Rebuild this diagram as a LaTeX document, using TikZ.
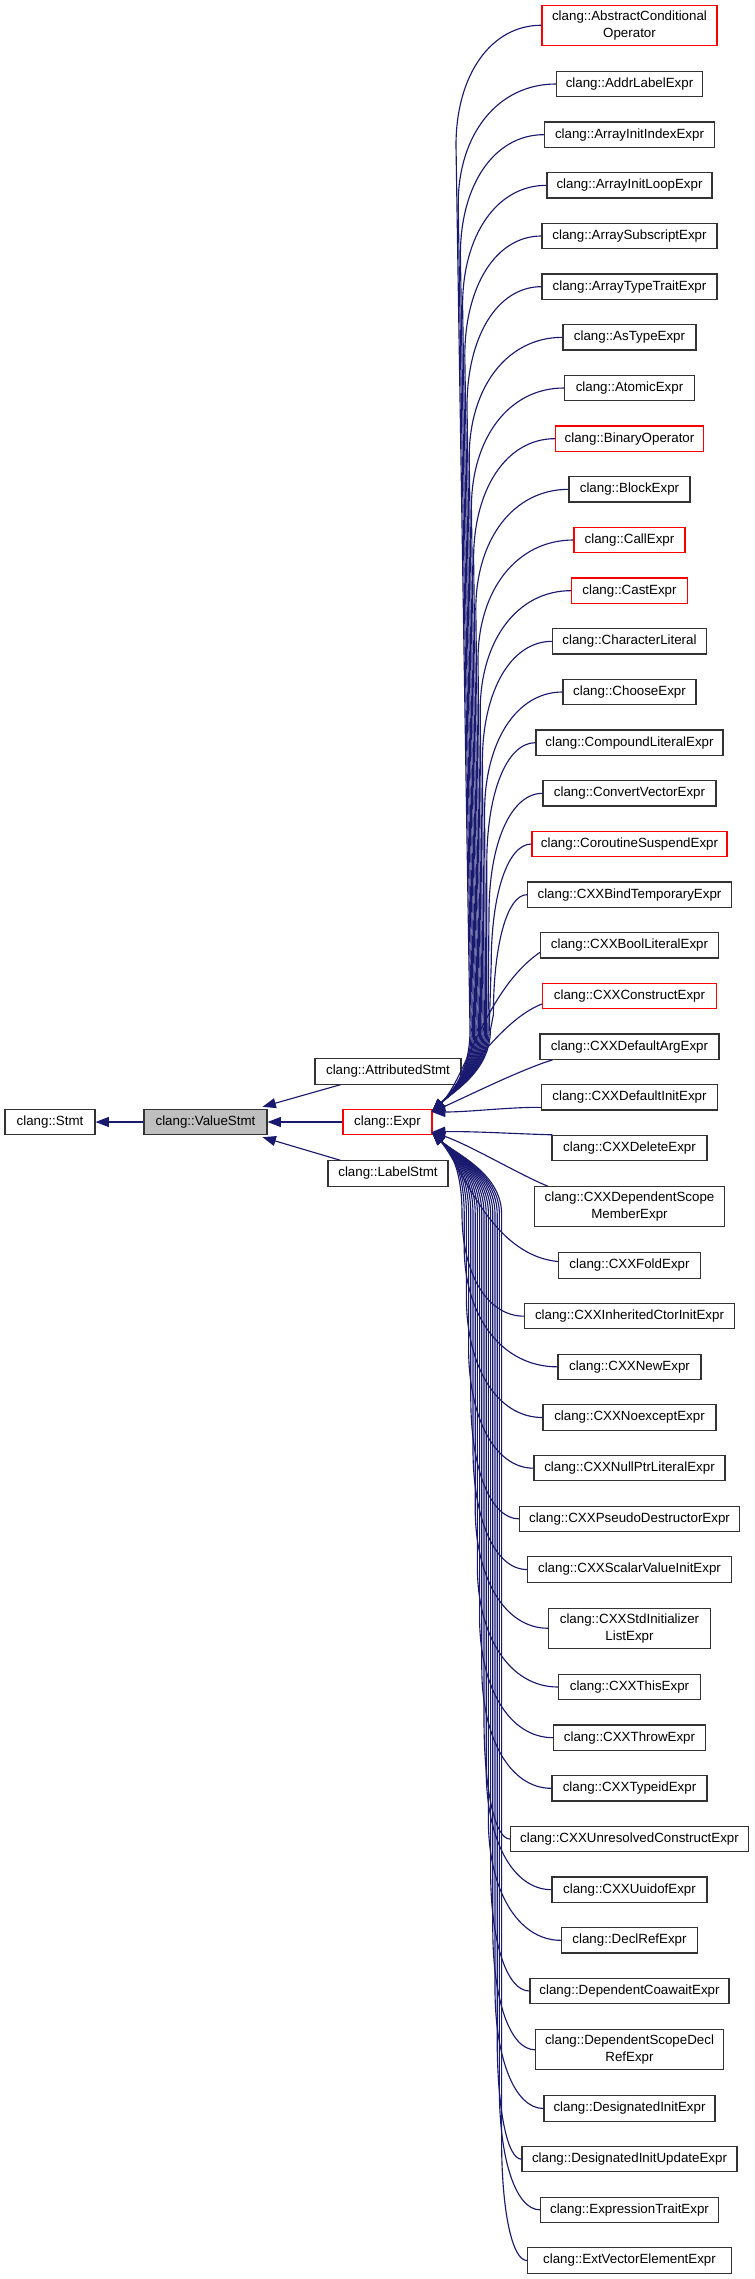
\documentclass[tikz,border=0pt]{standalone}
\usepackage{fontspec}
\setmainfont{Liberation Sans}
\usetikzlibrary{arrows.meta,calc}
\definecolor{edgeblue}{HTML}{191970}
\definecolor{boxred}{HTML}{FF0000}
\definecolor{boxgray}{HTML}{BFBFBF}
\tikzset{
 cls/.style={draw=black!80, line width=0.8pt, fill=white, inner xsep=0pt, inner ysep=0pt, minimum height=19pt, font=\fontsize{10}{12.5}\selectfont, align=center},
 redcls/.style={cls, draw=boxred},
 dbl/.style={minimum height=30pt},
 wd/.style={minimum width=#1*0.75pt},
 inh/.style={draw=edgeblue, line width=0.85pt, arrows={Triangle[length=10pt,width=7.5pt]-}},
}
\newcommand\clsnode[5]{\node[#5, wd=#3] (#1) at (629.5,#2) {#4};}
% name, index, y centre, width
\newcommand\upedge[4]{%
 \pgfmathsetmacro\xb{470+(#2-1)*1.2}%
 \pgfmathsetmacro\xt{456+(#2-1)*2.2}%
 \pgfmathsetmacro\lv{min(120,1030-#3)}%
 \pgfmathsetmacro\cx{\xt+0.4*(629.5-#4/2-\xt)}%
 \draw[inh] (432,1112) .. controls (452,1092) and (\xb,1072) .. (\xb,1030) -- (\xt,#3+\lv) .. controls (\xt,#3+0.42*\lv) and (\cx,#3) .. (#1.west);}
\newcommand\downedge[4]{%
 \pgfmathsetmacro\xt{462+(#2-1)*2.2}%
 \pgfmathsetmacro\lv{min(120,#3-1214)}%
 \pgfmathsetmacro\cx{\xt+0.4*(629.5-#4/2-\xt)}%
 \draw[inh] (432,1132) .. controls (452,1152) and (\xt,1172) .. (\xt,1214) -- (\xt,#3-\lv) .. controls (\xt,#3-0.42*\lv) and (\cx,#3) .. (#1.west);}
\begin{document}
\begin{tikzpicture}[x=0.75pt,y=-0.75pt]
\useasboundingbox (0,0) rectangle (755,2279);
% left part
\node[cls, wd=90] (stmt) at (50,1122) {clang::Stmt};
\node[cls, wd=123, fill=boxgray] (vs) at (205.5,1122) {clang::ValueStmt};
\node[redcls, wd=89] (expr) at (387.5,1122) {clang::Expr};
\node[cls, wd=146] (as) at (388,1071.5) {clang::AttributedStmt};
\node[cls, wd=120] (ls) at (388,1173.5) {clang::LabelStmt};
% right column
\clsnode{n1}{25.25}{175}{clang::AbstractConditional\\Operator}{redcls,dbl}
\clsnode{n2}{84}{146}{clang::AddrLabelExpr}{cls}
\clsnode{n3}{134.67}{170}{clang::ArrayInitIndexExpr}{cls}
\clsnode{n4}{185.33}{165}{clang::ArrayInitLoopExpr}{cls}
\clsnode{n5}{236}{175}{clang::ArraySubscriptExpr}{cls}
\clsnode{n6}{286.67}{175}{clang::ArrayTypeTraitExpr}{cls}
\clsnode{n7}{337.33}{133}{clang::AsTypeExpr}{cls}
\clsnode{n8}{388}{130}{clang::AtomicExpr}{cls}
\clsnode{n9}{438.67}{148}{clang::BinaryOperator}{redcls}
\clsnode{n10}{489.33}{121}{clang::BlockExpr}{cls}
\clsnode{n11}{540}{111}{clang::CallExpr}{redcls}
\clsnode{n12}{590.67}{116}{clang::CastExpr}{redcls}
\clsnode{n13}{641.33}{154}{clang::CharacterLiteral}{cls}
\clsnode{n14}{692}{133}{clang::ChooseExpr}{cls}
\clsnode{n15}{742.67}{187}{clang::CompoundLiteralExpr}{cls}
\clsnode{n16}{793.33}{173}{clang::ConvertVectorExpr}{cls}
\clsnode{n17}{844}{195}{clang::CoroutineSuspendExpr}{redcls}
\clsnode{n18}{894.67}{204}{clang::CXXBindTemporaryExpr}{cls}
\clsnode{n19}{945.33}{178}{clang::CXXBoolLiteralExpr}{cls}
\clsnode{n20}{996}{174}{clang::CXXConstructExpr}{redcls}
\clsnode{n21}{1046.67}{179}{clang::CXXDefaultArgExpr}{cls}
\clsnode{n22}{1097.33}{176}{clang::CXXDefaultInitExpr}{cls}
\clsnode{n23}{1148}{155}{clang::CXXDeleteExpr}{cls}
\clsnode{n24}{1206.75}{190}{clang::CXXDependentScope\\MemberExpr}{cls,dbl}
\clsnode{n25}{1265.5}{142}{clang::CXXFoldExpr}{cls}
\clsnode{n26}{1316.17}{210}{clang::CXXInheritedCtorInitExpr}{cls}
\clsnode{n27}{1366.83}{143}{clang::CXXNewExpr}{cls}
\clsnode{n28}{1417.5}{173}{clang::CXXNoexceptExpr}{cls}
\clsnode{n29}{1468.17}{191}{clang::CXXNullPtrLiteralExpr}{cls}
\clsnode{n30}{1518.83}{220}{clang::CXXPseudoDestructorExpr}{cls}
\clsnode{n31}{1569.5}{204}{clang::CXXScalarValueInitExpr}{cls}
\clsnode{n32}{1628.25}{162}{clang::CXXStdInitializer\\ListExpr}{cls,dbl}
\clsnode{n33}{1687}{142}{clang::CXXThisExpr}{cls}
\clsnode{n34}{1737.67}{152}{clang::CXXThrowExpr}{cls}
\clsnode{n35}{1788.33}{155}{clang::CXXTypeidExpr}{cls}
\clsnode{n36}{1839}{238}{clang::CXXUnresolvedConstructExpr}{cls}
\clsnode{n37}{1889.67}{155}{clang::CXXUuidofExpr}{cls}
\clsnode{n38}{1940.33}{136}{clang::DeclRefExpr}{cls}
\clsnode{n39}{1991}{199}{clang::DependentCoawaitExpr}{cls}
\clsnode{n40}{2049.75}{188}{clang::DependentScopeDecl\\RefExpr}{cls,dbl}
\clsnode{n41}{2108.5}{171}{clang::DesignatedInitExpr}{cls}
\clsnode{n42}{2159.17}{215}{clang::DesignatedInitUpdateExpr}{cls}
\clsnode{n43}{2209.83}{178}{clang::ExpressionTraitExpr}{cls}
\clsnode{n44}{2260.5}{204}{clang::ExtVectorElementExpr}{cls}
% left edges
\draw[inh] (stmt) -- (vs);
\draw[inh] (vs) -- (expr);
\draw[inh] ($(vs.north east)+(-5,-2)$) -- ($(as.south west)+(26,0)$);
\draw[inh] ($(vs.south east)+(-5,2)$) -- ($(ls.north west)+(13,0)$);
% upper edges
\upedge{n1}{1}{25.25}{175}
\upedge{n2}{2}{84}{146}
\upedge{n3}{3}{134.67}{170}
\upedge{n4}{4}{185.33}{165}
\upedge{n5}{5}{236}{175}
\upedge{n6}{6}{286.67}{175}
\upedge{n7}{7}{337.33}{133}
\upedge{n8}{8}{388}{130}
\upedge{n9}{9}{438.67}{148}
\upedge{n10}{10}{489.33}{121}
\upedge{n11}{11}{540}{111}
\upedge{n12}{12}{590.67}{116}
\upedge{n13}{13}{641.33}{154}
\upedge{n14}{14}{692}{133}
\upedge{n15}{15}{742.67}{187}
\upedge{n16}{16}{793.33}{173}
\upedge{n17}{17}{844}{195}
\upedge{n18}{18}{894.67}{204}
\draw[inh] (432,1112) .. controls (465,1080) and (485,990) .. ($(n19.west)+(0,7)$);
\draw[inh] (432,1112) .. controls (460,1085) and (500,1020) .. ($(n20.west)+(0,8)$);
\draw[inh] (432,1112) .. controls (470,1095) and (520,1070) .. ($(n21.south west)+(13,0)$);
\draw[inh] (432,1112) .. controls (470,1112) and (510,1107) .. ($(n22.west)+(0,10)$);
% lower edges
\draw[inh] (432,1132) .. controls (470,1131) and (520,1134) .. ($(n23.north west)+(1,0)$);
\draw[inh] (432,1132) .. controls (470,1145) and (520,1175) .. ($(n24.north west)+(14,0)$);
\draw[inh] (432,1132) .. controls (462,1165) and (490,1255) .. ($(n25.west)+(0,-4)$);
\downedge{n26}{1}{1316.17}{210}
\downedge{n27}{2}{1366.83}{143}
\downedge{n28}{3}{1417.5}{173}
\downedge{n29}{4}{1468.17}{191}
\downedge{n30}{5}{1518.83}{220}
\downedge{n31}{6}{1569.5}{204}
\downedge{n32}{7}{1628.25}{162}
\downedge{n33}{8}{1687}{142}
\downedge{n34}{9}{1737.67}{152}
\downedge{n35}{10}{1788.33}{155}
\downedge{n36}{11}{1839}{238}
\downedge{n37}{12}{1889.67}{155}
\downedge{n38}{13}{1940.33}{136}
\downedge{n39}{14}{1991}{199}
\downedge{n40}{15}{2049.75}{188}
\downedge{n41}{16}{2108.5}{171}
\downedge{n42}{17}{2159.17}{215}
\downedge{n43}{18}{2209.83}{178}
\downedge{n44}{19}{2260.5}{204}
\end{tikzpicture}
\end{document}
